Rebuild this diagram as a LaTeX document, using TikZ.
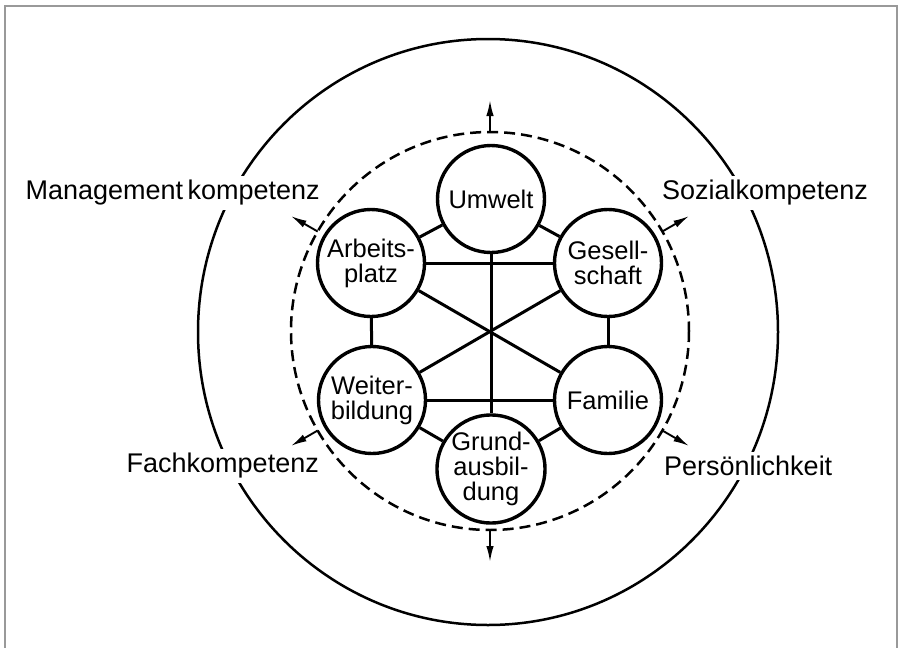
\documentclass[tikz,border=0pt]{standalone}
\usepackage{fontspec}
\setmainfont{Liberation Sans}
\usetikzlibrary{arrows.meta}
\begin{document}
\begin{tikzpicture}[x=1pt,y=-1pt,
  sector/.style={draw, line width=3.4pt, circle, minimum size=107pt, inner sep=0pt,
    align=center, font=\fontsize{25.5}{25}\selectfont},
  link/.style={line width=3pt},
  outward/.style={line width=1.9pt, -{Latex[length=16pt,width=7.5pt]}},
  lbl/.style={font=\fontsize{27}{27}\selectfont, inner xsep=3pt, inner ysep=4pt, fill=white}]
\useasboundingbox (0,0) rectangle (903,648);
\draw[gray!80, line width=1.4pt] (5,648) -- (5,6) -- (897,6) -- (897,648);
% rings
\draw[line width=2.5pt] (488,332) ellipse [x radius=290, y radius=293];
\draw[line width=2.5pt, dash pattern=on 11pt off 6pt] (490,331) circle [radius=199];
% sectors
\node[sector] (umw) at (491,199) {Umwelt};
\node[sector] (arb) at (371,263) {Arbeits-\\platz};
\node[sector] (ges) at (608,263) {Gesell-\\schaft};
\node[sector] (wei) at (372,400) {Weiter-\\bildung};
\node[sector] (fam) at (608,400) {Familie};
\node[sector] (gru) at (491,469) {Grund-\\ausbil-\\dung};
% links
\draw[link] (umw) -- (arb);
\draw[link] (umw) -- (ges);
\draw[link] (arb) -- (ges);
\draw[link] (arb) -- (wei);
\draw[link] (ges) -- (fam);
\draw[link] (wei) -- (fam);
\draw[link] (wei) -- (gru);
\draw[link] (fam) -- (gru);
\draw[link] (umw) -- (gru);
\draw[link] (arb) -- (fam);
\draw[link] (ges) -- (wei);
% arrows
\coordinate (t0) at (490,132);   \coordinate (t1) at (490,100);
\coordinate (b0) at (490,530);   \coordinate (b1) at (490,562);
\coordinate (ul0) at (317.7,231.5); \coordinate (ul1) at (290.8,216);
\coordinate (ur0) at (662.3,231.5); \coordinate (ur1) at (689.2,216);
\coordinate (ll0) at (317.7,430.5); \coordinate (ll1) at (290.8,446);
\coordinate (lr0) at (662.3,430.5); \coordinate (lr1) at (689.2,446);
\draw[outward] (t0) -- (t1);
\draw[outward] (b0) -- (b1);
\draw[outward] (ul0) -- (ul1);
\draw[outward] (ur0) -- (ur1);
\draw[outward] (ll0) -- (ll1);
\draw[outward] (lr0) -- (lr1);
% labels
\node[lbl, anchor=east] (mk) at (323,193) {Management\,kompetenz};
\node[lbl, anchor=west] (sk) at (659,193) {Sozialkompetenz};
\node[lbl, anchor=east] (fk) at (322,466) {Fachkompetenz};
\node[lbl, anchor=west] (pk) at (661,466) {Persönlichkeit};
\end{tikzpicture}
\end{document}
